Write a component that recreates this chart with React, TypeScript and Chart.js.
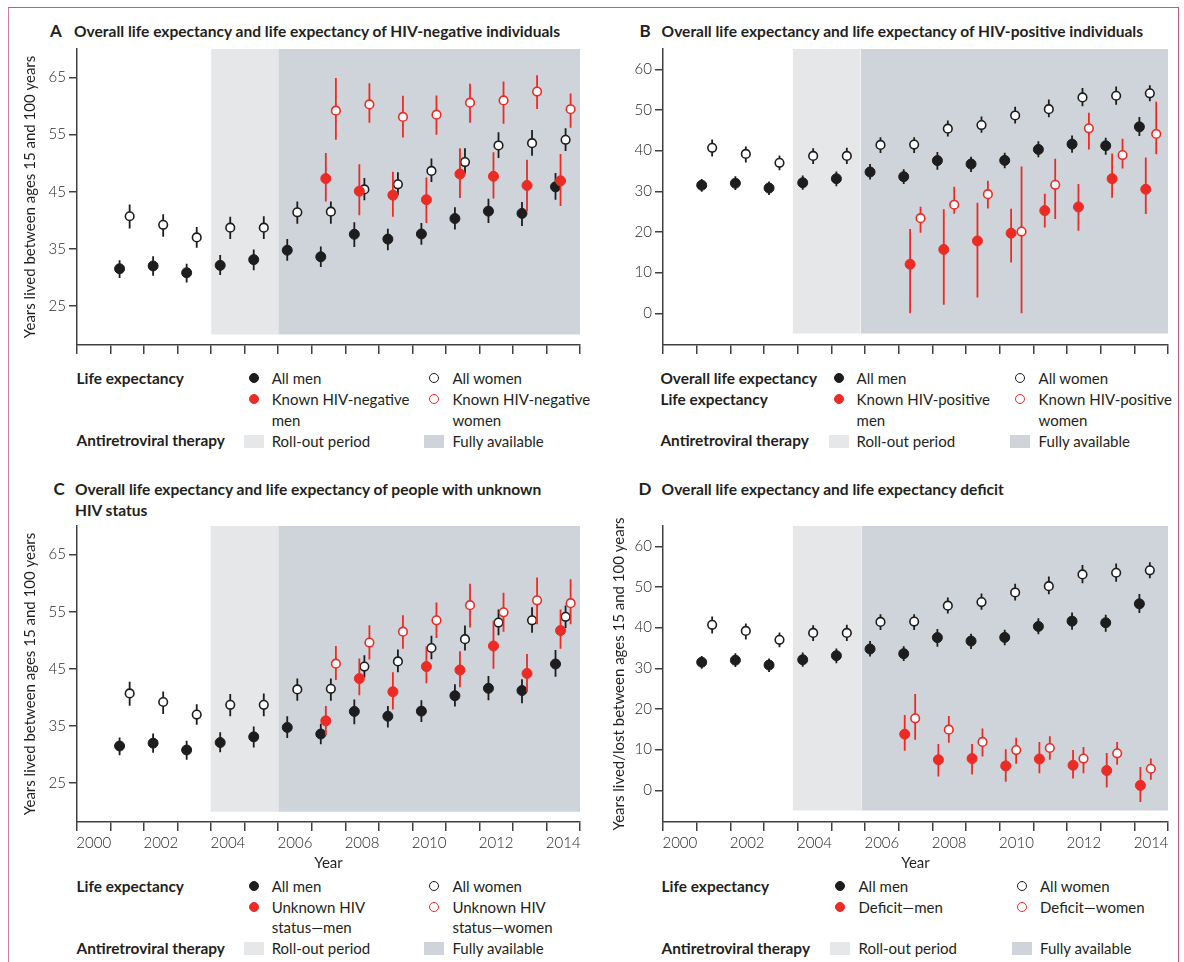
import React, { useEffect, useRef } from "react";
import { Chart, registerables } from "chart.js";

Chart.register(...registerables);

// ---------------- data ----------------
const years = [2001, 2002, 2003, 2004, 2005, 2006, 2007, 2008, 2009, 2010, 2011, 2012, 2013, 2014];
const subYears = [2007, 2008, 2009, 2010, 2011, 2012, 2013, 2014];

const allMen = [31.5, 32.0, 30.8, 32.1, 33.1, 34.75, 33.6, 37.55, 36.7, 37.6, 40.3, 41.6, 41.2, 45.85];
const allMenLo = [29.9, 30.3, 29.1, 30.4, 31.25, 32.9, 31.8, 35.3, 34.75, 35.7, 38.4, 39.5, 39.0, 43.6];
const allMenHi = [33.0, 33.7, 32.4, 33.9, 34.9, 36.7, 35.4, 39.65, 38.5, 39.5, 42.3, 43.75, 43.2, 48.3];
const allWomen = [40.7, 39.2, 37.0, 38.7, 38.7, 41.4, 41.5, 45.4, 46.3, 48.65, 50.2, 53.1, 53.5, 54.1];
const allWomenLo = [38.55, 37.1, 35.2, 36.7, 36.7, 39.4, 39.4, 43.5, 44.4, 46.7, 48.2, 50.9, 51.3, 52.15];
const allWomenHi = [42.75, 41.05, 38.8, 40.6, 40.7, 43.3, 43.3, 47.4, 48.4, 50.8, 52.6, 55.4, 55.8, 56.1];

const hivNegMen = [47.3, 45.1, 44.4, 43.6, 48.1, 47.7, 46.1, 46.9];
const hivNegMenLo = [43.3, 40.9, 40.6, 39.5, 43.9, 43.8, 41.6, 42.5];
const hivNegMenHi = [51.8, 49.8, 48.5, 47.5, 52.6, 51.9, 50.6, 51.6];
const hivNegWomen = [59.2, 60.3, 58.1, 58.5, 60.6, 61.0, 62.55, 59.45];
const hivNegWomenLo = [54.1, 57.1, 54.5, 55.0, 57.1, 56.9, 59.5, 56.2];
const hivNegWomenHi = [64.9, 64.0, 61.8, 61.85, 63.9, 64.3, 65.4, 62.2];

const hivPosMen = [12.05, 15.7, 17.8, 19.7, 25.25, 26.15, 33.1, 30.5];
const hivPosMenLo = [0.0, 2.1, 3.9, 12.5, 21.1, 20.3, 28.4, 24.4];
const hivPosMenHi = [20.7, 25.6, 27.2, 25.7, 29.4, 31.8, 39.3, 38.3];
const hivPosWomen = [23.4, 26.7, 29.3, 20.1, 31.6, 45.5, 38.9, 44.1];
const hivPosWomenLo = [19.8, 24.5, 25.8, 0.0, 23.2, 40.3, 35.6, 39.1];
const hivPosWomenHi = [26.2, 31.1, 32.6, 36.1, 38.0, 49.3, 42.95, 52.05];

const unkMen = [35.9, 43.3, 41.0, 45.4, 44.8, 49.0, 44.2, 51.7];
const unkMenLo = [33.4, 40.4, 37.9, 42.5, 41.8, 45.0, 41.0, 48.5];
const unkMenHi = [38.5, 46.8, 44.4, 48.9, 48.1, 53.4, 47.6, 55.4];
const unkWomen = [45.9, 49.6, 51.5, 53.5, 56.15, 54.9, 57.0, 56.5];
const unkWomenLo = [43.05, 46.65, 48.5, 50.4, 52.25, 51.5, 52.8, 52.8];
const unkWomenHi = [49.0, 52.65, 54.4, 56.6, 59.9, 58.3, 61.0, 60.7];

const defMen = [13.8, 7.5, 7.8, 6.0, 7.7, 6.15, 4.85, 1.2];
const defMenLo = [9.75, 3.4, 3.9, 2.1, 4.2, 2.9, 0.66, -2.9];
const defMenHi = [18.5, 11.4, 11.4, 10.1, 11.9, 9.9, 9.2, 5.7];
const defWomen = [17.7, 14.9, 11.9, 9.9, 10.4, 7.8, 9.1, 5.3];
const defWomenLo = [12.4, 11.7, 8.3, 6.5, 7.5, 4.2, 6.3, 2.6];
const defWomenHi = [23.7, 18.3, 15.2, 12.95, 13.3, 10.65, 11.9, 7.8];

const xTickYears = [2000, 2001, 2002, 2003, 2004, 2005, 2006, 2007, 2008, 2009, 2010, 2011, 2012, 2013, 2014, 2015];
const xLabelYears = [2000, 2002, 2004, 2006, 2008, 2010, 2012, 2014];
const yTicksAC = [25, 35, 45, 55, 65];
const yTicksBD = [0, 10, 20, 30, 40, 50, 60];

// ART periods per panel: [roll-out start, full start, end]
const artA = [2004.0, 2006.0, 2015];
const artB = [2003.85, 2005.87, 2015];
const artC = [2003.98, 2006.0, 2015];
const artD = [2003.85, 2005.9, 2015];

// ---------------- styles ----------------
const BLACK = "#1d1d1d";
const RED = "#ec2b24";
const AXIS = "#404040";
const ROLLOUT = "#e6e7e9";
const FULL = "#cfd4db";
const TEXT = "#231f20";
const FONT = "Lato, 'Open Sans', 'DejaVu Sans', sans-serif";

type Series = {
  xs: number[];
  off: number;
  val: number[];
  lo: number[];
  hi: number[];
  color: string;
  open: boolean;
};

type PanelSpec = {
  box: { x: number; y: number; w: number; h: number };
  yWidth: number;
  padTop: number;
  padBottom: number;
  yMin: number;
  yMax: number;
  yTicks: number[];
  shadeLo: number;
  shadeHi: number;
  art: number[];
  yTitle: string | null;
  xLabels: boolean;
  series: Series[];
};

function buildDatasets(p: PanelSpec) {
  const ds: any[] = [];
  ds.push({
    type: "line",
    data: [
      { x: p.art[0], y: p.shadeHi },
      { x: p.art[1], y: p.shadeHi },
    ],
    fill: { value: p.shadeLo },
    backgroundColor: ROLLOUT,
    borderColor: "rgba(0,0,0,0)",
    borderWidth: 0,
    pointRadius: 0,
    order: 100,
  });
  ds.push({
    type: "line",
    data: [
      { x: p.art[1], y: p.shadeHi },
      { x: p.art[2], y: p.shadeHi },
    ],
    fill: { value: p.shadeLo },
    backgroundColor: FULL,
    borderColor: "rgba(0,0,0,0)",
    borderWidth: 0,
    pointRadius: 0,
    order: 99,
  });
  let order = 90;
  p.series.forEach((s) => {
    const bars: { x: number; y: number | null }[] = [];
    s.xs.forEach((x, i) => {
      bars.push({ x: x + s.off, y: s.lo[i] });
      bars.push({ x: x + s.off, y: s.hi[i] });
      bars.push({ x: x + s.off, y: null });
    });
    ds.push({
      type: "line",
      data: bars,
      borderColor: s.color,
      borderWidth: 1.8,
      pointRadius: 0,
      fill: false,
      spanGaps: false,
      order: order--,
    });
    ds.push({
      type: "line",
      data: s.xs.map((x, i) => ({ x: x + s.off, y: s.val[i] })),
      showLine: false,
      pointRadius: s.open ? 4.3 : 5,
      pointBorderWidth: s.open ? 1.6 : 1,
      pointBackgroundColor: s.open ? "#ffffff" : s.color,
      pointBorderColor: s.color,
      fill: false,
      order: order--,
    });
  });
  return ds;
}

function buildConfig(p: PanelSpec): any {
  const tickFont = { family: FONT, size: 15, weight: "300" as any };
  const scales: any = {
    x: {
      type: "linear",
      position: "bottom",
      min: 2000,
      max: 2015,
      afterBuildTicks: (s: any) => {
        s.ticks = xTickYears.map((v) => ({ value: v }));
      },
      ticks: { display: false },
      grid: {
        display: true,
        drawOnChartArea: false,
        drawTicks: true,
        tickLength: 9,
        color: AXIS,
        lineWidth: 1.5,
      },
      border: { display: true, color: AXIS, width: 1.5 },
      afterFit: (s: any) => {
        s.height = 9;
        s.paddingLeft = 0;
        s.paddingRight = 0;
      },
    },
  };
  if (p.xLabels) {
    scales.xl = {
      type: "linear",
      axis: "x",
      position: "bottom",
      min: 1999.5,
      max: 2014.5,
      afterBuildTicks: (s: any) => {
        s.ticks = xLabelYears.map((v) => ({ value: v }));
      },
      ticks: {
        font: tickFont,
        color: TEXT,
        padding: 3,
        autoSkip: false,
        maxRotation: 0,
        callback: (v: any) => String(v),
      },
      grid: { display: false, drawTicks: false, tickLength: 0 },
      border: { display: false },
      title: {
        display: true,
        text: "Year",
        font: { family: FONT, size: 15, weight: "400" as any },
        color: TEXT,
        padding: { top: 0, bottom: 0 },
      },
      afterFit: (s: any) => {
        s.height = 41;
        s.paddingLeft = 0;
        s.paddingRight = 0;
      },
    };
  }
  scales.y = {
    type: "linear",
    position: "left",
    min: p.yMin,
    max: p.yMax,
    afterBuildTicks: (s: any) => {
      s.ticks = p.yTicks.map((v) => ({ value: v }));
    },
    ticks: {
      font: tickFont,
      color: TEXT,
      padding: 3,
      callback: (v: any) => String(v),
    },
    grid: {
      display: true,
      drawOnChartArea: false,
      drawTicks: true,
      tickLength: 8,
      color: AXIS,
      lineWidth: 1.5,
    },
    border: { display: true, color: AXIS, width: 1.5 },
    title: {
      display: !!p.yTitle,
      text: p.yTitle || "",
      font: { family: FONT, size: 15, weight: "400" as any },
      color: TEXT,
      padding: { top: 0, bottom: 0 },
    },
    afterFit: (s: any) => {
      s.width = p.yWidth;
      s.paddingTop = 0;
      s.paddingBottom = 0;
    },
  };
  return {
    type: "scatter",
    data: { datasets: buildDatasets(p) },
    options: {
      responsive: false,
      maintainAspectRatio: false,
      animation: false,
      events: [],
      devicePixelRatio: 1,
      layout: { padding: { top: p.padTop, right: 10, bottom: p.padBottom, left: 0 } },
      plugins: { legend: { display: false }, tooltip: { enabled: false }, title: { display: false } },
      scales,
    },
  };
}

const offAC = { men: 0.27, redMen: 0.42, women: 0.57, redWomen: 0.72 };
const offB = { men: 0.15, redMen: 0.34, women: 0.46, redWomen: 0.65 };
const offD = { men: 0.15, redMen: 0.18, women: 0.46, redWomen: 0.49 };

function baseSeries(off: { men: number; women: number }): Series[] {
  return [
    { xs: years, off: off.men, val: allMen, lo: allMenLo, hi: allMenHi, color: BLACK, open: false },
    { xs: years, off: off.women, val: allWomen, lo: allWomenLo, hi: allWomenHi, color: BLACK, open: true },
  ];
}

const panelA: PanelSpec = {
  box: { x: 21, y: 40, w: 569, h: 320 },
  yWidth: 56,
  padTop: 9,
  padBottom: 6,
  yMin: 18.15,
  yMax: 70,
  yTicks: yTicksAC,
  shadeLo: 20,
  shadeHi: 70,
  art: artA,
  yTitle: "Years lived between ages 15 and 100 years",
  xLabels: false,
  series: [
    ...baseSeries(offAC),
    { xs: subYears, off: offAC.redMen, val: hivNegMen, lo: hivNegMenLo, hi: hivNegMenHi, color: RED, open: false },
    { xs: subYears, off: offAC.redWomen, val: hivNegWomen, lo: hivNegWomenLo, hi: hivNegWomenHi, color: RED, open: true },
  ],
};

const panelB: PanelSpec = {
  box: { x: 610, y: 40, w: 568, h: 320 },
  yWidth: 53,
  padTop: 9,
  padBottom: 6,
  yMin: -7.8,
  yMax: 65,
  yTicks: yTicksBD,
  shadeLo: -5,
  shadeHi: 65,
  art: artB,
  yTitle: null,
  xLabels: false,
  series: [
    ...baseSeries(offB),
    { xs: subYears, off: offB.redMen, val: hivPosMen, lo: hivPosMenLo, hi: hivPosMenHi, color: RED, open: false },
    { xs: subYears, off: offB.redWomen, val: hivPosWomen, lo: hivPosWomenLo, hi: hivPosWomenHi, color: RED, open: true },
  ],
};

const panelC: PanelSpec = {
  box: { x: 21, y: 517, w: 569, h: 358 },
  yWidth: 56,
  padTop: 9,
  padBottom: 3,
  yMin: 18.2,
  yMax: 70,
  yTicks: yTicksAC,
  shadeLo: 20,
  shadeHi: 70,
  art: artC,
  yTitle: "Years lived between ages 15 and 100 years",
  xLabels: true,
  series: [
    ...baseSeries(offAC),
    { xs: subYears, off: offAC.redMen, val: unkMen, lo: unkMenLo, hi: unkMenHi, color: RED, open: false },
    { xs: subYears, off: offAC.redWomen, val: unkWomen, lo: unkWomenLo, hi: unkWomenHi, color: RED, open: true },
  ],
};

const panelD: PanelSpec = {
  box: { x: 610, y: 517, w: 568, h: 358 },
  yWidth: 53,
  padTop: 9,
  padBottom: 3,
  yMin: -7.8,
  yMax: 65,
  yTicks: yTicksBD,
  shadeLo: -5,
  shadeHi: 65,
  art: artD,
  yTitle: "Years lived/lost between ages 15 and 100 years",
  xLabels: true,
  series: [
    ...baseSeries(offD),
    { xs: subYears, off: offD.redMen, val: defMen, lo: defMenLo, hi: defMenHi, color: RED, open: false },
    { xs: subYears, off: offD.redWomen, val: defWomen, lo: defWomenLo, hi: defWomenHi, color: RED, open: true },
  ],
};

function ChartPanel({ spec }: { spec: PanelSpec }) {
  const ref = useRef<HTMLCanvasElement | null>(null);
  useEffect(() => {
    if (!ref.current) return;
    const chart = new Chart(ref.current, buildConfig(spec));
    return () => chart.destroy();
  }, [spec]);
  return (
    <canvas
      ref={ref}
      width={spec.box.w}
      height={spec.box.h}
      style={{ position: "absolute", left: spec.box.x, top: spec.box.y, width: spec.box.w, height: spec.box.h }}
    />
  );
}

// ---------------- HTML texts / legends ----------------
function Txt({ x, y, children, bold, size }: { x: number; y: number; children: any; bold?: boolean; size?: number }) {
  return (
    <div
      style={{
        position: "absolute",
        left: x,
        top: y - 10,
        height: 20,
        lineHeight: "20px",
        fontSize: size || 15,
        fontWeight: bold ? 700 : 400,
        color: TEXT,
        whiteSpace: "nowrap",
        fontFamily: FONT,
      }}
    >
      {children}
    </div>
  );
}

function Mark({ x, y, kind }: { x: number; y: number; kind: string }) {
  if (kind === "s1" || kind === "s2") {
    return (
      <div
        style={{
          position: "absolute",
          left: x - 10,
          top: y - 6,
          width: 20,
          height: 13,
          background: kind === "s1" ? ROLLOUT : FULL,
        }}
      />
    );
  }
  const color = kind[0] === "b" ? BLACK : RED;
  const open = kind[1] === "o";
  return (
    <div
      style={{
        position: "absolute",
        left: x - 5,
        top: y - 5,
        width: 10,
        height: 10,
        boxSizing: "border-box",
        borderRadius: "50%",
        background: open ? "#fff" : color,
        border: `1.5px solid ${color}`,
      }}
    />
  );
}

type LegendSpec = {
  labelX: number;
  labels: [string, number][];
  c1: [number, number];
  c2: [number, number];
  entries: { col: 1 | 2; y: number; kind: string; lines: string[] }[];
};

const LH = 20.7;

function Legend({ spec }: { spec: LegendSpec }) {
  return (
    <>
      {spec.labels.map(([t, y], i) => (
        <Txt key={"l" + i} x={spec.labelX} y={y} bold size={15.4}>
          {t}
        </Txt>
      ))}
      {spec.entries.map((e, i) => {
        const c = e.col === 1 ? spec.c1 : spec.c2;
        return (
          <React.Fragment key={"e" + i}>
            <Mark x={c[0]} y={e.y} kind={e.kind} />
            {e.lines.map((ln, j) => (
              <Txt key={j} x={c[1]} y={e.y + j * LH}>
                {ln}
              </Txt>
            ))}
          </React.Fragment>
        );
      })}
    </>
  );
}

const legendA: LegendSpec = {
  labelX: 76.5,
  labels: [
    ["Life expectancy", 378],
    ["Antiretroviral therapy", 440],
  ],
  c1: [253.7, 271.7],
  c2: [433.6, 452.4],
  entries: [
    { col: 1, y: 378, kind: "bf", lines: ["All men"] },
    { col: 2, y: 378, kind: "bo", lines: ["All women"] },
    { col: 1, y: 399, kind: "rf", lines: ["Known HIV-negative", "men"] },
    { col: 2, y: 399, kind: "ro", lines: ["Known HIV-negative", "women"] },
    { col: 1, y: 440.5, kind: "s1", lines: ["Roll-out period"] },
    { col: 2, y: 440.5, kind: "s2", lines: ["Fully available"] },
  ],
};

const legendB: LegendSpec = {
  labelX: 660.4,
  labels: [
    ["Overall life expectancy", 378],
    ["Life expectancy", 399],
    ["Antiretroviral therapy", 440],
  ],
  c1: [839.4, 856.6],
  c2: [1020, 1038.6],
  entries: [
    { col: 1, y: 378, kind: "bf", lines: ["All men"] },
    { col: 2, y: 378, kind: "bo", lines: ["All women"] },
    { col: 1, y: 399, kind: "rf", lines: ["Known HIV-positive", "men"] },
    { col: 2, y: 399, kind: "ro", lines: ["Known HIV-positive", "women"] },
    { col: 1, y: 440.5, kind: "s1", lines: ["Roll-out period"] },
    { col: 2, y: 440.5, kind: "s2", lines: ["Fully available"] },
  ],
};

const legendC: LegendSpec = {
  labelX: 76.5,
  labels: [
    ["Life expectancy", 886],
    ["Antiretroviral therapy", 947.7],
  ],
  c1: [253.7, 271.7],
  c2: [433.6, 452.4],
  entries: [
    { col: 1, y: 886, kind: "bf", lines: ["All men"] },
    { col: 2, y: 886, kind: "bo", lines: ["All women"] },
    { col: 1, y: 906.7, kind: "rf", lines: ["Unknown HIV", "status\u2014men"] },
    { col: 2, y: 906.7, kind: "ro", lines: ["Unknown HIV", "status\u2014women"] },
    { col: 1, y: 948, kind: "s1", lines: ["Roll-out period"] },
    { col: 2, y: 948, kind: "s2", lines: ["Fully available"] },
  ],
};

const legendD: LegendSpec = {
  labelX: 661.6,
  labels: [
    ["Life expectancy", 886],
    ["Antiretroviral therapy", 947.7],
  ],
  c1: [840.2, 858.5],
  c2: [1021.5, 1040],
  entries: [
    { col: 1, y: 886, kind: "bf", lines: ["All men"] },
    { col: 2, y: 886, kind: "bo", lines: ["All women"] },
    { col: 1, y: 906.7, kind: "rf", lines: ["Deficit\u2014men"] },
    { col: 2, y: 906.7, kind: "ro", lines: ["Deficit\u2014women"] },
    { col: 1, y: 948, kind: "s1", lines: ["Roll-out period"] },
    { col: 2, y: 948, kind: "s2", lines: ["Fully available"] },
  ],
};

function Title({ letterX, textX, y, letter, lines }: { letterX: number; textX: number; y: number; letter: string; lines: string[] }) {
  return (
    <>
      <Txt x={letterX} y={y} bold size={17}>
        {letter}
      </Txt>
      {lines.map((ln, i) => (
        <Txt key={i} x={textX} y={y + i * 21} bold size={15.55}>
          {ln}
        </Txt>
      ))}
    </>
  );
}

export default function App() {
  return (
    <div
      style={{
        position: "absolute",
        left: 0,
        top: 0,
        width: 1184,
        height: 962,
        background: "#fff",
        overflow: "hidden",
        fontFamily: FONT,
      }}
    >
      <div
        style={{
          position: "absolute",
          left: 8,
          top: 7,
          width: 1171,
          height: 970,
          borderTop: "1px solid #c6587a",
          borderLeft: "1px solid #d07f96",
          borderRight: "1px solid #c6587a",
          boxSizing: "border-box",
        }}
      />
      <Title letterX={50} textX={74} y={30.7} letter="A" lines={["Overall life expectancy and life expectancy of HIV-negative individuals"]} />
      <Title letterX={639.5} textX={661.6} y={30.7} letter="B" lines={["Overall life expectancy and life expectancy of HIV-positive individuals"]} />
      <Title
        letterX={53.6}
        textX={75}
        y={489}
        letter="C"
        lines={["Overall life expectancy and life expectancy of people with unknown", "HIV status"]}
      />
      <Title letterX={638.4} textX={661.6} y={489} letter="D" lines={["Overall life expectancy and life expectancy deficit"]} />

      <ChartPanel spec={panelA} />
      <ChartPanel spec={panelB} />
      <ChartPanel spec={panelC} />
      <ChartPanel spec={panelD} />

      <Legend spec={legendA} />
      <Legend spec={legendB} />
      <Legend spec={legendC} />
      <Legend spec={legendD} />
    </div>
  );
}
